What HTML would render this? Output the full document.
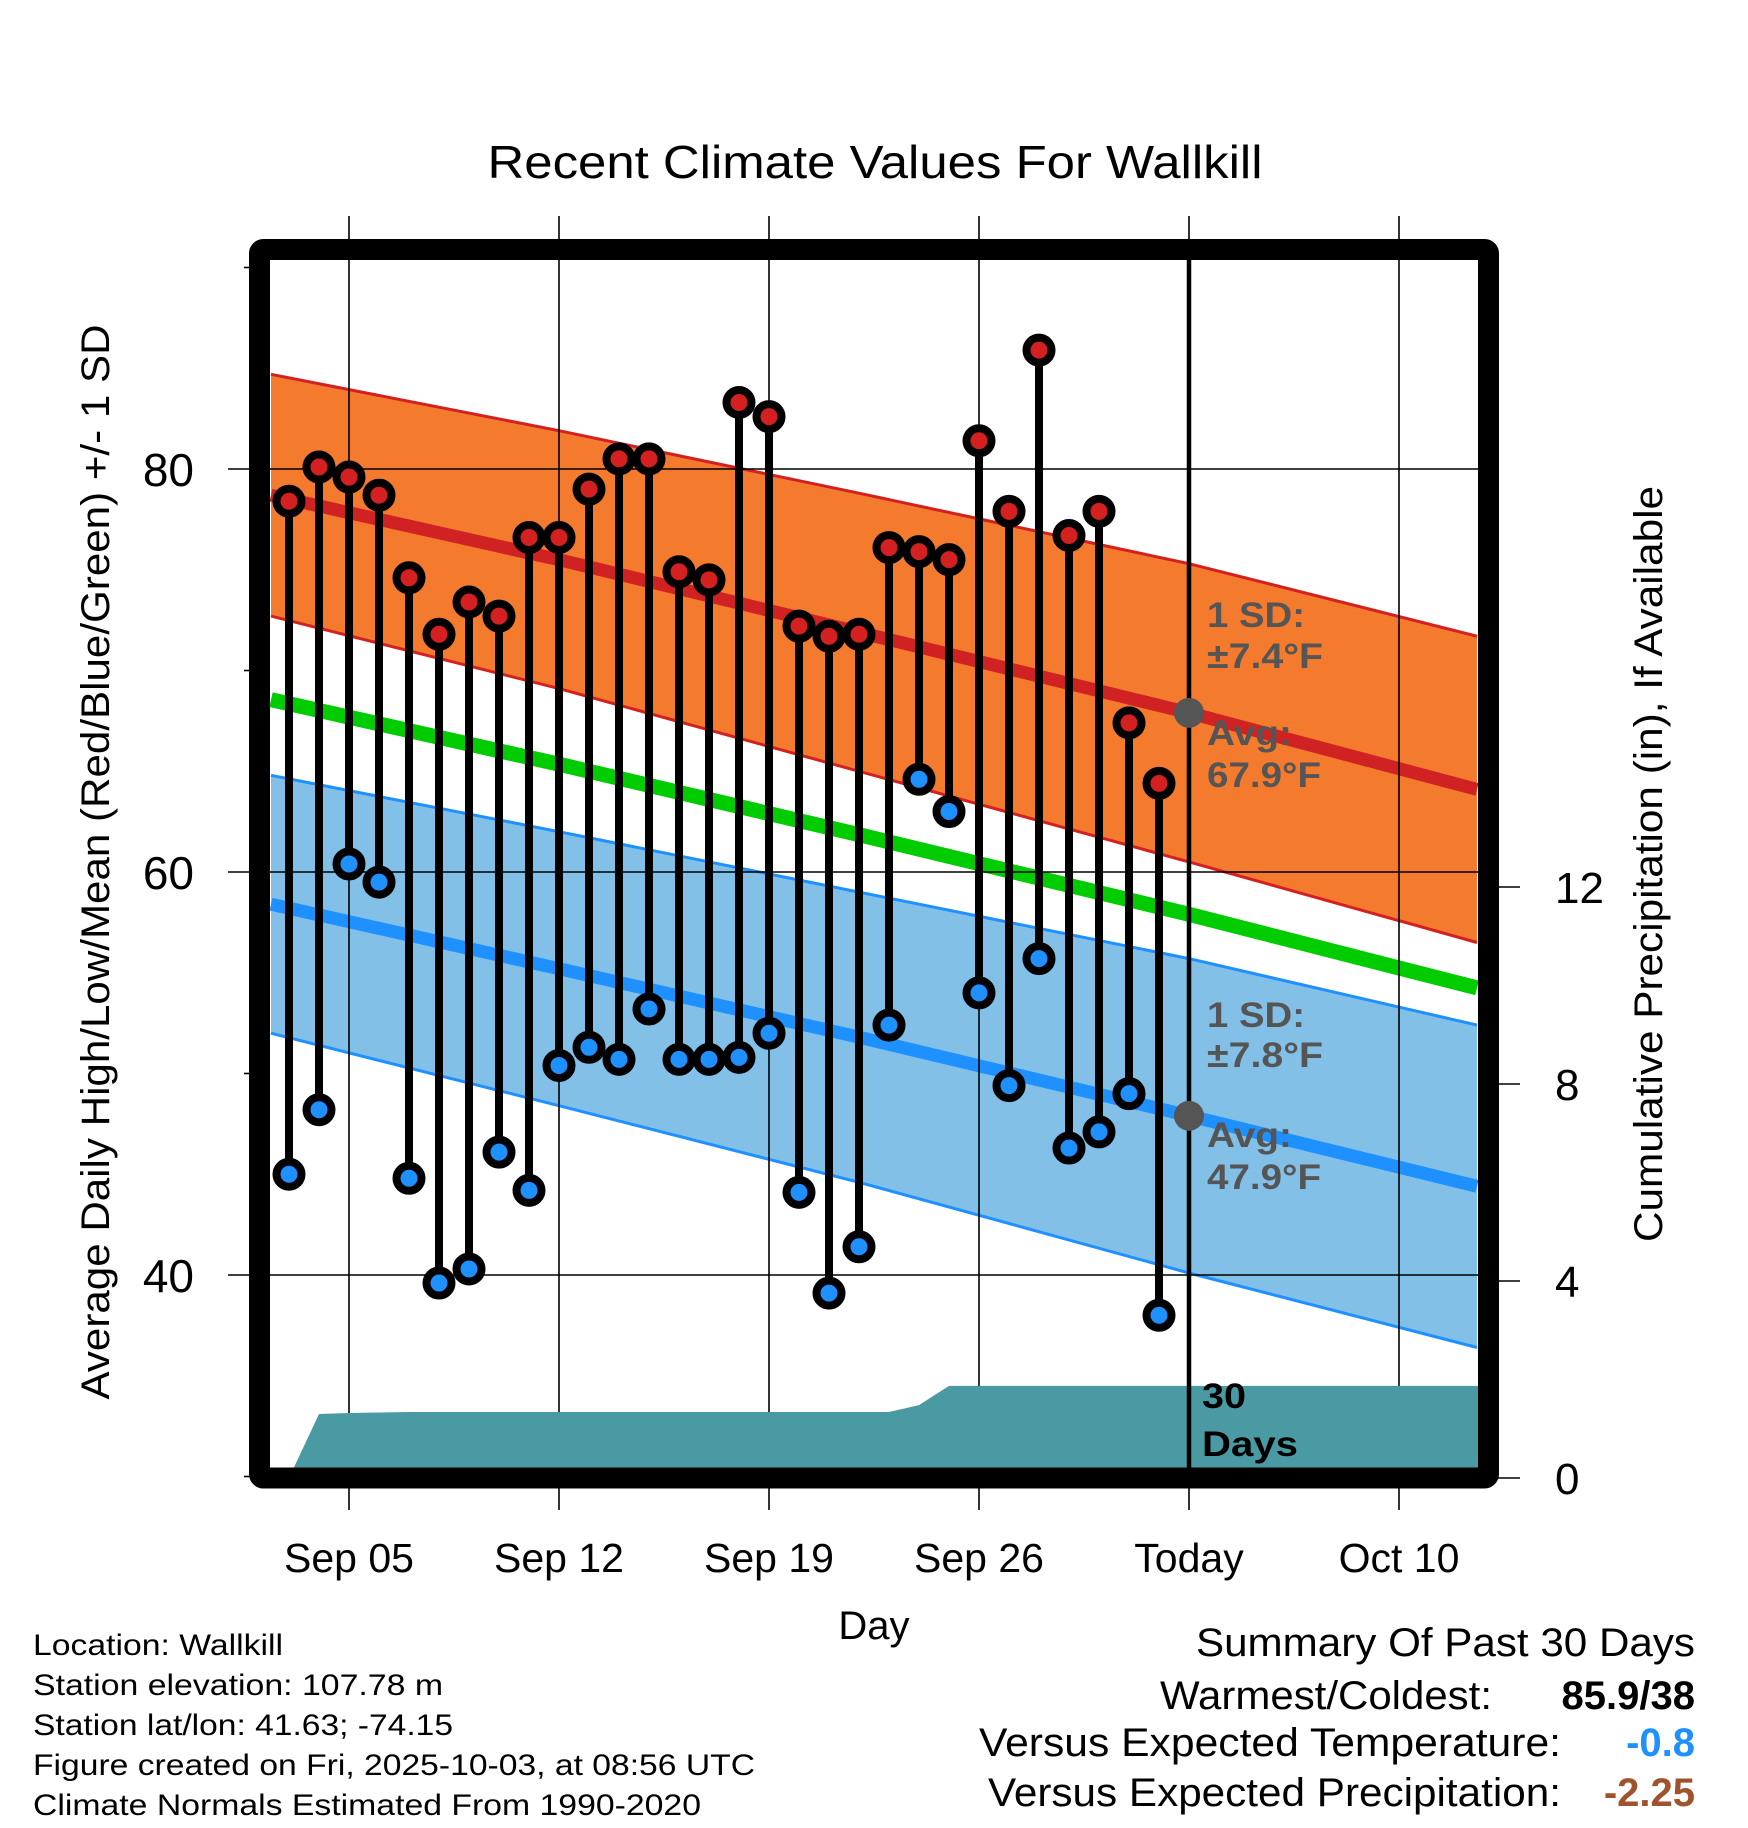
<!DOCTYPE html>
<html><head><meta charset="utf-8"><style>
html,body{margin:0;padding:0;background:#fff;}
svg{display:block;font-family:"Liberation Sans",Arial,sans-serif;}
</style></head><body>
<svg id="chart" width="1748" height="1828" viewBox="0 0 1748 1828" xmlns="http://www.w3.org/2000/svg">
<defs><clipPath id="plotclip"><rect x="270" y="260" width="1208" height="1208"/></clipPath></defs>
<text x="875" y="178" font-size="46" text-anchor="middle" textLength="775" lengthAdjust="spacingAndGlyphs">Recent Climate Values For Wallkill</text>
<g id="under" clip-path="url(#plotclip)"></g>
<g id="axes"></g>
<g id="over"></g>
<text transform="translate(109,862) rotate(-90)" font-size="40" text-anchor="middle" textLength="1075" lengthAdjust="spacingAndGlyphs">Average Daily High/Low/Mean (Red/Blue/Green) +/- 1 SD</text>
<text transform="translate(1662,864) rotate(-90)" font-size="40" text-anchor="middle" textLength="756" lengthAdjust="spacingAndGlyphs">Cumulative Precipitation (in), If Available</text>
<text x="874" y="1639" font-size="40" text-anchor="middle">Day</text>
<g font-size="30">
<text x="33" y="1655" textLength="250" lengthAdjust="spacingAndGlyphs">Location: Wallkill</text>
<text x="33" y="1695" textLength="410" lengthAdjust="spacingAndGlyphs">Station elevation: 107.78 m</text>
<text x="33" y="1735" textLength="420" lengthAdjust="spacingAndGlyphs">Station lat/lon: 41.63; -74.15</text>
<text x="33" y="1775" textLength="722" lengthAdjust="spacingAndGlyphs">Figure created on Fri, 2025-10-03, at 08:56 UTC</text>
<text x="33" y="1815" textLength="668" lengthAdjust="spacingAndGlyphs">Climate Normals Estimated From 1990-2020</text>
</g>
<g font-size="40" text-anchor="end">
<text x="1695" y="1656" textLength="499" lengthAdjust="spacingAndGlyphs">Summary Of Past 30 Days</text>
<text x="1492" y="1709" textLength="332" lengthAdjust="spacingAndGlyphs">Warmest/Coldest:</text>
<text x="1695" y="1709" font-weight="bold">85.9/38</text>
<text x="1561" y="1756" textLength="582" lengthAdjust="spacingAndGlyphs">Versus Expected Temperature:</text>
<text x="1695" y="1756" font-weight="bold" fill="#1e90ff">-0.8</text>
<text x="1561" y="1806" textLength="573" lengthAdjust="spacingAndGlyphs">Versus Expected Precipitation:</text>
<text x="1695" y="1806" font-weight="bold" fill="#a0522d">-2.25</text>
</g>
</svg>
<script>
const days=[3,4,5,6,7,8,9,10,11,12,13,14,15,16,17,18,19,20,21,22,23,24,25,26,27,28,29,30,31,32];
const highs=[78.4,80.1,79.6,78.7,74.6,71.8,73.4,72.7,76.6,76.6,79.0,80.5,80.5,74.9,74.5,83.3,82.6,72.2,71.7,71.8,76.1,75.9,75.5,81.4,77.9,85.9,76.7,77.9,67.4,64.4];
const lows=[45.0,48.2,60.4,59.5,44.8,39.6,40.3,46.1,44.2,50.4,51.3,50.7,53.2,50.7,50.7,50.8,52.0,44.1,39.1,41.4,52.4,64.6,63.0,54.0,49.4,55.7,46.3,47.1,49.0,38.0];
const precip=[0,1.30,1.32,1.33,1.34,1.34,1.34,1.34,1.34,1.34,1.34,1.34,1.34,1.34,1.34,1.34,1.34,1.34,1.34,1.34,1.34,1.48,1.87,1.87,1.87,1.87,1.87,1.87,1.87,1.87];
const normDays=[2.4,12,22,33,42.6];
const normHigh=[78.7,75.5,71.9,67.9,64.1];
const normLow=[58.4,55.2,51.8,47.9,44.4];
const sdHigh=[6.0,6.4,6.9,7.4,7.6];
const sdLow=[6.4,6.8,7.2,7.8,8.0];
const xTickDays=[5,12,19,26,33,40];
const xTickLabels=["Sep 05","Sep 12","Sep 19","Sep 26","Today","Oct 10"];
const yTicks=[40,60,80];
const yMinorTicks=[30,50,70,90];
const pTicks=[0,4,8,12];
const todayDay=33;

const X=d=>349+(d-5)*30.0;
const Y=v=>469+(80-v)*20.15;
const P=p=>1478-p*49.25;
const NS="http://www.w3.org/2000/svg";
function mk(tag,parent,attrs){const e=document.createElementNS(NS,tag);for(const k in attrs)e.setAttribute(k,attrs[k]);parent.appendChild(e);return e;}
const under=document.getElementById('under'),axes=document.getElementById('axes'),over=document.getElementById('over');
function pts(arr,f){return normDays.map((d,i)=>X(d).toFixed(1)+','+Y(f(i)).toFixed(1));}
function band(up,lo,fill,edge,name){
  const top=pts(null,up),bot=pts(null,lo).reverse();
  let e=mk('polygon',under,{points:top.concat(bot).join(' '),fill:fill});
  
  
  e=mk('polyline',under,{points:top.join(' '),fill:'none',stroke:edge,'stroke-width':3});
  
  
  e=mk('polyline',under,{points:pts(null,lo).join(' '),fill:'none',stroke:edge,'stroke-width':3});
  
  
}
band(i=>normHigh[i]+sdHigh[i],i=>normHigh[i]-sdHigh[i],'#f47a2e','#d42020','high-sd');
band(i=>normLow[i]+sdLow[i],i=>normLow[i]-sdLow[i],'#82c0e8','#1e90ff','low-sd');
let ln=mk('polyline',under,{points:pts(null,i=>normHigh[i]).join(' '),fill:'none',stroke:'#d02222','stroke-width':13});


ln=mk('polyline',under,{points:pts(null,i=>normLow[i]).join(' '),fill:'none',stroke:'#1e90ff','stroke-width':13});


ln=mk('polyline',under,{points:pts(null,i=>(normHigh[i]+normLow[i])/2).join(' '),fill:'none',stroke:'#00cc00','stroke-width':15});


xTickDays.forEach((d,i)=>{
  const g=mk('line',axes,{x1:X(d),x2:X(d),y1:216,y2:1510,stroke:'#000','stroke-width':1.6});
  
  
  const t=mk('text',axes,{x:X(d),y:1572,'font-size':41,'text-anchor':'middle'});
  t.textContent=xTickLabels[i];
  
  
});
yTicks.forEach(v=>{
  const g=mk('line',axes,{x1:228,x2:1478,y1:Y(v),y2:Y(v),stroke:'#000','stroke-width':1.6});
  
  
  const t=mk('text',axes,{x:194,y:Y(v)+17,'font-size':46,'text-anchor':'end'});
  t.textContent=v;
  
  
});
yMinorTicks.forEach(v=>{
  const g=mk('line',axes,{x1:244,x2:250,y1:Y(v),y2:Y(v),stroke:'#000','stroke-width':1.6});
  
  
});
pTicks.forEach(p=>{
  const g=mk('line',axes,{x1:1495,x2:1520,y1:P(p),y2:P(p),stroke:'#000','stroke-width':1.6});
  
  
  const t=mk('text',axes,{x:1555,y:P(p)+16,'font-size':44});
  t.textContent=p;
  
  
});
const pp=[X(days[0])+','+P(0)];
days.forEach((d,i)=>pp.push(X(d)+','+P(precip[i])));
pp.push('1480,'+P(precip[precip.length-1]),'1480,1480',X(days[0])+',1480');
const pa=mk('polygon',axes,{points:pp.join(' '),fill:'#4a9aa3'});


const tl=mk('line',over,{x1:X(todayDay),x2:X(todayDay),y1:255,y2:1480,stroke:'#000','stroke-width':4.5});


const fr=mk('rect',over,{x:259.5,y:249.5,width:1229,height:1228.5,fill:'none',stroke:'#000','stroke-width':21,'stroke-linejoin':'round',rx:4});


days.forEach((d,i)=>{
  const s=mk('line',over,{x1:X(d),x2:X(d),y1:Y(highs[i]),y2:Y(lows[i]),stroke:'#000','stroke-width':8});
  
  
  const h=mk('circle',over,{cx:X(d),cy:Y(highs[i]),r:12.5,fill:'#d42020',stroke:'#000','stroke-width':8});
  
  
  const l=mk('circle',over,{cx:X(d),cy:Y(lows[i]),r:12.5,fill:'#1e90ff',stroke:'#000','stroke-width':8});
  
  
});
const thi=normHigh[3],tlo=normLow[3];
let dd=mk('circle',over,{cx:X(todayDay),cy:Y(thi),r:15,fill:'#555'});


dd=mk('circle',over,{cx:X(todayDay),cy:Y(tlo),r:15,fill:'#555'});


function lab(txt,x,y,len,name,col){
  const t=mk('text',over,{x:x,y:y,'font-size':35,'font-weight':'bold',fill:col||'#555',textLength:len,lengthAdjust:'spacingAndGlyphs'});
  t.textContent=txt;
  
  
}
lab('1 SD:',1207,627,98,'high-sd-label');
lab('±7.4°F',1207,668,116,'high-sd-value');
lab('Avg:',1207,745,85,'high-avg-label');
lab('67.9°F',1207,787,114,'high-avg-value');
lab('1 SD:',1207,1027,98,'low-sd-label');
lab('±7.8°F',1207,1067,116,'low-sd-value');
lab('Avg:',1207,1147,85,'low-avg-label');
lab('47.9°F',1207,1189,114,'low-avg-value');
lab('30',1202,1408,44,'precip-days-number','#000');
lab('Days',1202,1456,96,'precip-days-label','#000');
</script>
</body></html>
